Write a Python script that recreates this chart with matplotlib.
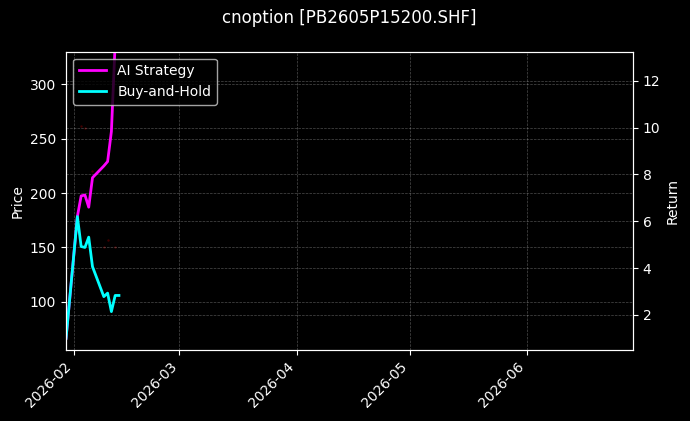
import matplotlib

matplotlib.use("Agg")
import matplotlib.dates as mdates
import matplotlib.pyplot as plt
import numpy as np
import pandas as pd

# trading days shown (data stops before the Spring Festival break)
dates = pd.to_datetime([
    "2026-01-30", "2026-02-02", "2026-02-03", "2026-02-04", "2026-02-05",
    "2026-02-06", "2026-02-09", "2026-02-10", "2026-02-11", "2026-02-12",
    "2026-02-13",
])
strategy_ret = [1.0, 6.20, 7.08, 7.12, 6.60, 7.86, 8.36, 8.55, 9.83, 13.6, 14.5]
buyhold_ret = [1.0, 6.20, 4.92, 4.88, 5.32, 4.06, 2.78, 2.93, 2.14, 2.83, 2.83]

# faint trade markers on the price axis
trade_dates = pd.to_datetime([
    "2026-02-03", "2026-02-04", "2026-02-06", "2026-02-09", "2026-02-10",
    "2026-02-12",
])
trade_prices = [261.6, 259.8, 220.5, 150.6, 156.8, 150.6]

x_start, x_end = pd.Timestamp("2026-01-30"), pd.Timestamp("2026-06-29")
price_lim = (55.6, 330)
ret_lim = (0.5, 13.24)

plt.style.use("dark_background")
fig = plt.figure(figsize=(6.9, 4.21), dpi=100)
ax1 = fig.add_axes([0.0957, 0.1686, 0.8217, 0.7086])
ax2 = ax1.twinx()

ax1.scatter(trade_dates, trade_prices, s=3, color="red", alpha=0.25, linewidths=0)
ax1.set_ylim(*price_lim)
ax1.set_ylabel("Price")
ax1.grid(True, linestyle="--", linewidth=0.5, alpha=0.3)

ax2.plot(dates, strategy_ret, color="magenta", linewidth=2, label="AI Strategy")
ax2.plot(dates, buyhold_ret, color="cyan", linewidth=2, label="Buy-and-Hold")
ax2.set_ylim(*ret_lim)
ax2.set_ylabel("Return")
ax2.grid(True, linestyle="--", linewidth=0.5, alpha=0.3)
ax2.legend(loc="upper left")

ax1.set_xlim(x_start, x_end)
ax1.xaxis.set_major_locator(mdates.MonthLocator())
ax1.xaxis.set_major_formatter(mdates.DateFormatter("%Y-%m"))
plt.setp(ax1.get_xticklabels(), rotation=45, ha="right")

ax1.set_title("cnoption [PB2605P15200.SHF]", fontsize=12, pad=21)

fig.savefig("out.png", dpi=100)
